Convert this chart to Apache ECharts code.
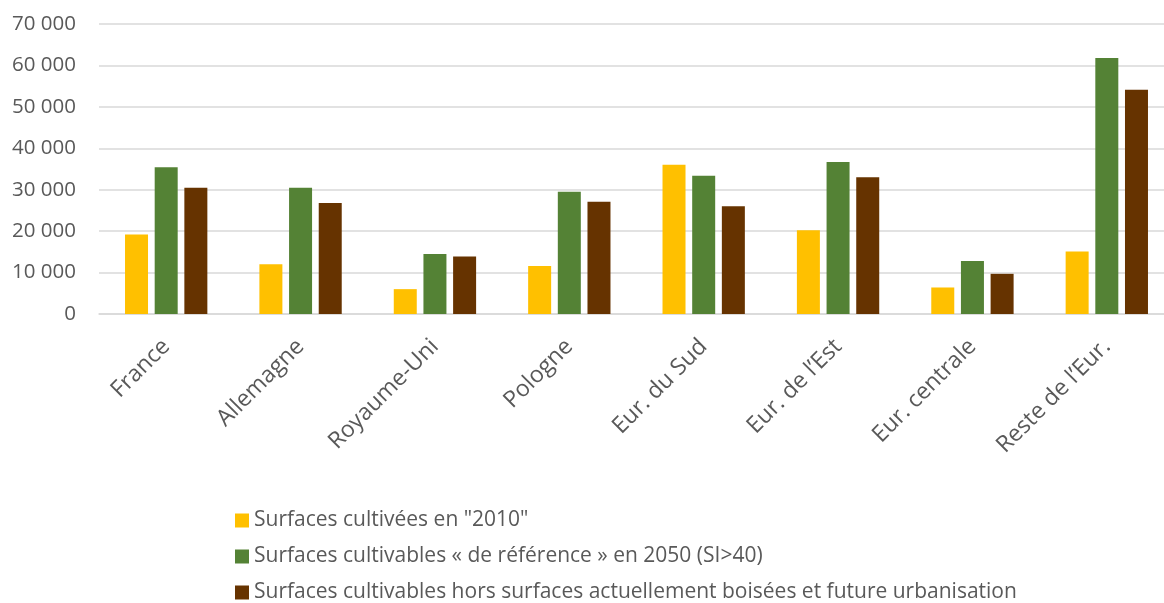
<!DOCTYPE html>
<html>
<head>
<meta charset="utf-8">
<script src="https://cdn.jsdelivr.net/npm/echarts@6/dist/echarts.min.js"></script>
<style>
html,body{margin:0;padding:0;background:#fff;}
#chart{width:1164px;height:603px;}
</style>
</head>
<body>
<div id="chart"></div>
<script>
const categories = ["France", "Allemagne", "Royaume-Uni", "Pologne", "Eur. du Sud", "Eur. de l’Est", "Eur. centrale", "Reste de l’Eur."];
const seriesNames = [
  "Surfaces cultivées en \"2010\"",
  "Surfaces cultivables « de référence » en 2050 (SI>40)",
  "Surfaces cultivables hors surfaces actuellement boisées et future urbanisation"
];
const cultivated2010 = [19200, 12000, 6000, 11600, 36000, 20200, 6400, 15100];
const reference2050 = [35400, 30500, 14500, 29500, 33400, 36700, 12800, 61800];
const horsBoisees = [30500, 26800, 13900, 27100, 26000, 33000, 9700, 54100];
const yTicks = [0, 10000, 20000, 30000, 40000, 50000, 60000, 70000];
const colors = ["#FFC000", "#548235", "#663300"];

const font = "Open Sans";
const chart = echarts.init(document.getElementById('chart'), null, {renderer: 'canvas'});
const dataSets = [cultivated2010, reference2050, horsBoisees];
chart.setOption({
  animation: false,
  textStyle: {fontFamily: font},
  grid: {left: 99, width: 1075, top: 24, height: 290, containLabel: false, outerBoundsMode: 'none'},
  legend: {
    orient: 'vertical',
    left: 235,
    top: 510,
    height: 120,
    padding: 0,
    itemWidth: 14,
    itemHeight: 14,
    itemGap: 15,
    icon: 'rect',
    textStyle: {fontFamily: font, fontSize: 21, color: '#595959', lineHeight: 21},
    data: seriesNames
  },
  xAxis: {
    type: 'category',
    data: categories,
    axisTick: {show: false},
    axisLine: {lineStyle: {color: '#d9d9d9', width: 1.5}},
    axisLabel: {rotate: 45, fontSize: 23, color: '#595959', fontFamily: font, margin: 29, interval: 0}
  },
  yAxis: {
    type: 'value',
    min: yTicks[0],
    max: yTicks[yTicks.length - 1],
    interval: 10000,
    axisLine: {show: false},
    axisTick: {show: false},
    splitLine: {lineStyle: {color: '#d9d9d9', width: 1.5}},
    axisLabel: {
      fontSize: 20.5, color: '#595959', fontFamily: font, margin: 23,
      formatter: v => String(v).replace(/\B(?=(\d{3})+(?!\d))/g, ' ')
    }
  },
  series: dataSets.map((d, i) => ({
    name: seriesNames[i],
    type: 'bar',
    data: d,
    barWidth: 23,
    barGap: '29%',
    itemStyle: {color: colors[i]}
  }))
});
</script>
</body>
</html>
